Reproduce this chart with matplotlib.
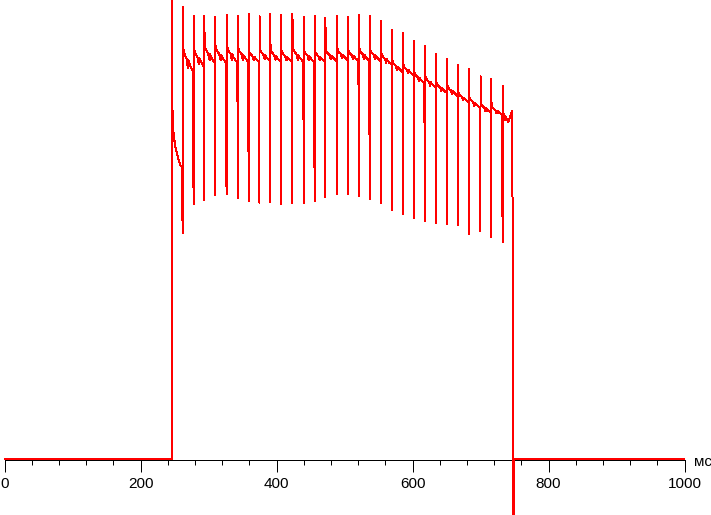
import matplotlib
matplotlib.use("Agg")
import matplotlib.pyplot as plt
from matplotlib.ticker import MultipleLocator, FixedLocator

plt.rcParams['font.family'] = ['Liberation Sans', 'DejaVu Sans']

# ---- data (time in ms, level in arbitrary brightness units) ----
on_t = 246.0
overshoot = 470
init_t = [246.5, 247.5, 248.5, 250.0, 251.5, 253.0, 254.5, 256.0, 257.5, 259.0, 260.8]
init_v = [361, 339, 327, 318, 311, 307, 303, 299, 296, 293, 292]

spike_t = [262, 278, 294, 310, 326.5, 343, 359, 375, 391, 407, 423.5, 440, 456, 472,
           489, 505, 521, 537, 553.5, 570, 586, 602, 618, 635, 651, 667, 683, 700,
           716, 732.5]
spike_hi = [452, 443, 443, 442, 444, 443, 445, 443, 445, 444, 445, 442, 443, 441, 443,
            442, 444, 443, 438, 429, 426, 418, 413, 405, 400, 394, 390, 383, 380, 373]
spike_lo = [226, 255, 259, 264, 265, 261, 258, 256, 257, 255, 256, 256, 258, 262, 265,
            265, 263, 260, 256, 249, 245, 241, 238, 236, 235, 234, 225, 228, 222, 217]
spike_mid = [None] * 19 + [334, 326, 314, 302, 247, 243, 239, 235, 266, 277, 268]
plat_start = [414, 413, 415, 414, 415, 413, 409, 411, 411, 409, 413, 410, 409, 410, 411,
              410, 412, 411, 407, 399, 395, 388, 384, 377, 374, 367, 363, 357, 354, 349]
plat_end = [387, 392, 396, 396, 396, 397, 397, 398, 397, 397, 397, 397, 397, 398, 399,
            398, 398, 398, 394, 387, 384, 376, 371, 366, 363, 357, 351, 346, 344, 337]
last_plat_end_t = 741.0

# shape of the decay inside one period (read from a typical period)
decay_frac_t = [0.0, 0.1, 0.22, 0.35, 0.48, 0.52, 0.62, 0.75, 0.88, 1.0]
decay_frac_v = [0.0, 0.25, 0.4, 0.5, 0.85, 0.55, 0.68, 0.8, 0.9, 1.0]

final_t = [746.3, 747.1, 748.7, 748.7, 1000]
final_v = [348, 258, -150, 0, 0]

tick_major = [0, 200, 400, 600, 800, 1000]
tick_minor_step = 40
unit_label = "мс"

# ---- build the trace ----
T = [0, on_t, on_t]
V = [0, 0, overshoot]
T += init_t
V += init_v
n = len(spike_t)
for k in range(n):
    tk = spike_t[k]
    if spike_mid[k] is not None:
        T.append(tk - 0.3); V.append(spike_mid[k])
    T += [tk, tk]
    V += [spike_lo[k], spike_hi[k]]
    t0 = tk + 0.2
    t1 = (spike_t[k + 1] - 0.5) if k + 1 < n else last_plat_end_t
    for ft, fv in zip(decay_frac_t, decay_frac_v):
        T.append(t0 + ft * (t1 - t0))
        V.append(plat_start[k] + (plat_end[k] - plat_start[k]) * fv)
T += final_t
V += final_v

fig = plt.figure(figsize=(7.11, 5.15), dpi=100)
ax = fig.add_axes([0, 0, 1, 1])
ax.set_xlim(-6.62, 1038.97)
ax.set_ylim(-56.0, 459.0)
ax.plot(T, V, color='#ff0000', lw=0.72, antialiased=False, zorder=3)

for s in ['top', 'left', 'right']:
    ax.spines[s].set_visible(False)
ax.spines['bottom'].set_position(('data', -1))
ax.spines['bottom'].set_bounds(0, 1000)
ax.spines['bottom'].set_linewidth(0.72)
ax.spines['bottom'].set_antialiased(False)
ax.spines['bottom'].set_zorder(1)
ax.set_yticks([])
ax.xaxis.set_major_locator(FixedLocator(tick_major))
ax.xaxis.set_minor_locator(MultipleLocator(tick_minor_step))
ax.set_xticklabels([str(t) for t in tick_major])
ax.tick_params(axis='x', which='major', direction='out', length=8.6, width=0.72,
               pad=3.4, labelsize=11, colors='black')
ax.tick_params(axis='x', which='minor', direction='out', length=3.6, width=0.72)
ax.text(1014, -6.5, unit_label, fontsize=11, ha='left', va='baseline')
ax.patch.set_visible(False)

fig.savefig("out.png", dpi=100)
